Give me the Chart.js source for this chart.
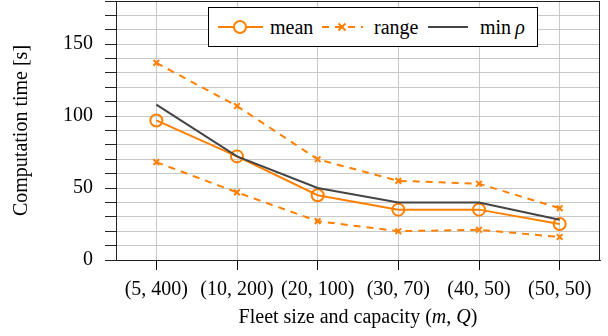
<!DOCTYPE html>
<html>
<head>
<meta charset="utf-8">
<script src="https://cdn.jsdelivr.net/npm/chart.js@4/dist/chart.umd.min.js"></script>
<style>
  html, body { margin: 0; padding: 0; background: #fff; }
  #wrap { position: relative; width: 608px; height: 336px; font-family: "Liberation Serif", "DejaVu Serif", serif; }
  #chart { position: absolute; left: 0; top: 0; }
  #legend {
    position: absolute; left: 208px; top: 7px; width: 330px; height: 40px;
    background: #fff; border: 1px solid #000; box-sizing: border-box;
    font-size: 20px; color: #000;
  }
  #legend .item { position: absolute; top: 0; height: 38px; line-height: 38px; }
  #legend svg { position: absolute; top: 0; }
  #xtitle { position: absolute; left: 116px; width: 484px; top: 305px; text-align: center; font-size: 20px; color: #000; }
</style>
</head>
<body>
<div id="wrap">
  <canvas id="chart" width="608" height="336"></canvas>
  <div id="legend">
    <svg width="330" height="38" style="left:0">
      <line x1="9" y1="19" x2="54" y2="19" stroke="#ff8000" stroke-width="2"/>
      <circle cx="31" cy="19" r="6" fill="#fff" stroke="#ff8000" stroke-width="2"/>
      <line x1="113" y1="19" x2="154" y2="19" stroke="#ff8000" stroke-width="2" stroke-dasharray="7,6"/>
      <path d="M129.5 15.5 L136.5 22.5 M136.5 15.5 L129.5 22.5" stroke="#ff8000" stroke-width="2"/>
      <line x1="219" y1="19" x2="259" y2="19" stroke="#444" stroke-width="2"/>
    </svg>
    <span class="item" style="left:61px">mean</span>
    <span class="item" style="left:165px">range</span>
    <span class="item" style="left:271px">min&thinsp;<i>ρ</i></span>
  </div>
  <div id="xtitle">Fleet size and capacity (<i>m</i>, <i>Q</i>)</div>
</div>
<script>
const categories = ["(5, 400)", "(10, 200)", "(20, 100)", "(30, 70)", "(40, 50)", "(50, 50)"];
const meanTime = [97, 72, 45, 35, 35, 25];
const rangeHigh = [137, 107, 70, 55, 53, 36];
const rangeLow = [68, 47, 27, 20, 21, 16];
const minRhoTime = [108, 72, 50, 40, 40, 28];
const yTicksLabeled = [0, 50, 100, 150];

const ORANGE = "#ff8000";
const DARK = "#444444";
const SERIF = "'Liberation Serif', 'DejaVu Serif', serif";

function rangeSet(data) {
  return {
    data,
    borderColor: ORANGE,
    borderWidth: 2,
    borderDash: [7, 6],
    pointStyle: "crossRot",
    pointRadius: 4,
    pointBorderWidth: 2,
    pointBorderColor: ORANGE,
    tension: 0,
    fill: false
  };
}

// box around the plot area, like the pgfplots frame
const frame = {
  id: "frame",
  afterDraw(chart) {
    const { ctx, chartArea: a } = chart;
    ctx.save();
    ctx.strokeStyle = "#222";
    ctx.lineWidth = 1;
    ctx.strokeRect(a.left + 0.5, a.top + 0.5, a.right - a.left - 1, a.bottom - a.top);
    ctx.restore();
  }
};

function draw() {
  new Chart(document.getElementById("chart"), {
    type: "line",
    data: {
      labels: categories,
      datasets: [
        rangeSet(rangeHigh),
        rangeSet(rangeLow),
        {
          data: minRhoTime,
          borderColor: DARK,
          borderWidth: 2,
          pointRadius: 0,
          tension: 0
        },
        {
          data: meanTime,
          borderColor: ORANGE,
          borderWidth: 2,
          pointStyle: "circle",
          pointRadius: 6,
          pointBorderWidth: 2,
          pointBackgroundColor: "rgba(255,255,255,0)",
          pointBorderColor: ORANGE,
          tension: 0
        }
      ]
    },
    plugins: [frame],
    options: {
      responsive: false,
      animation: false,
      layout: { autoPadding: false, padding: { left: 0, right: 8, top: 1, bottom: 0 } },
      plugins: { legend: { display: false }, tooltip: { enabled: false } },
      scales: {
        x: {
          offset: true,
          grid: { color: "#c8c8c8", tickColor: "#000", tickLength: 10, offset: false },
          border: { color: "#222" },
          ticks: { color: "#000", font: { family: SERIF, size: 20 }, padding: 8, maxRotation: 0, autoSkip: false },
          afterFit(scale) {
            scale.height = 76;
            scale.paddingLeft = 0;
            scale.paddingRight = 0;
          }
        },
        y: {
          min: 0,
          max: 180,
          grid: { color: "#c8c8c8", tickColor: "#222", tickLength: 11 },
          border: { color: "#222" },
          ticks: {
            stepSize: 10,
            autoSkip: false,
            color: "#000",
            padding: 12,
            font: { family: SERIF, size: 20 },
            callback: (v) => (yTicksLabeled.includes(v) ? String(v) : "")
          },
          title: {
            display: true,
            text: "Computation time [s]",
            color: "#000",
            font: { family: SERIF, size: 20 },
            padding: { top: 10, bottom: 0 }
          },
          afterFit(scale) {
            scale.width = 116;
            scale.paddingTop = 0;
            scale.paddingBottom = 0;
          }
        }
      }
    }
  });
}

document.fonts.load("20px 'Liberation Serif'").then(draw, draw);
</script>
</body>
</html>
